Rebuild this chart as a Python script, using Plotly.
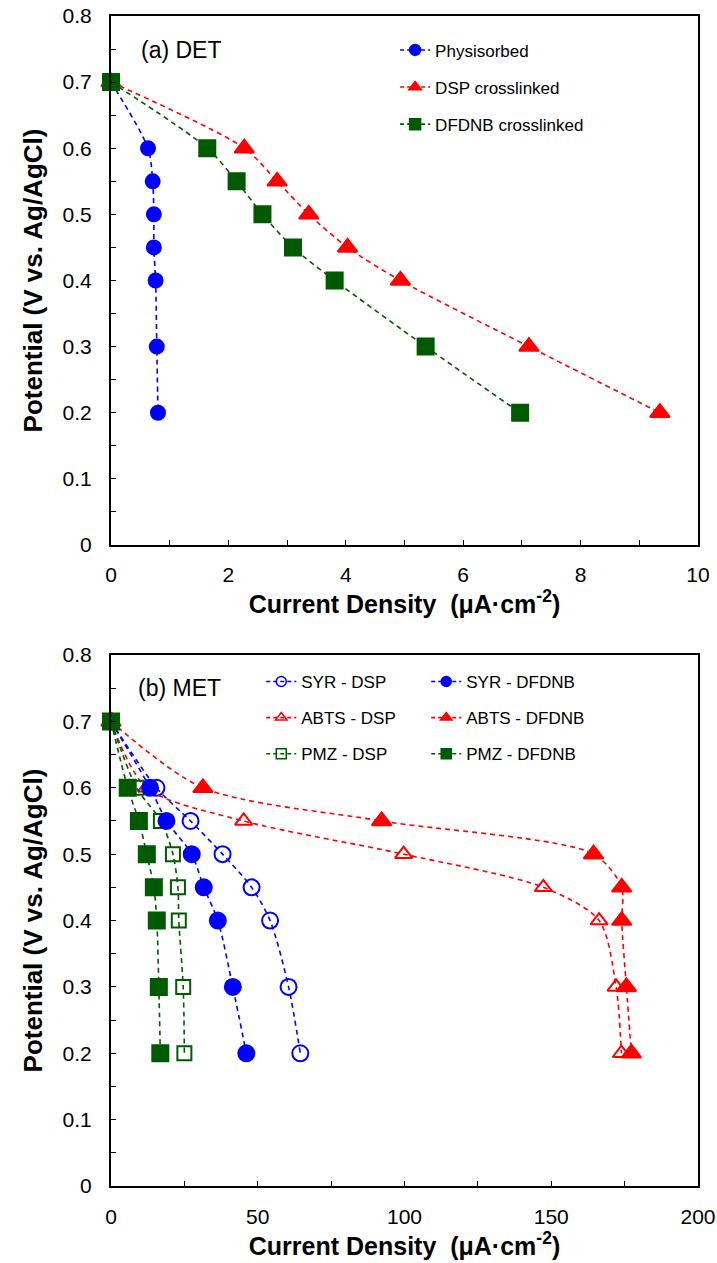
import plotly.graph_objects as go

# ---- Panel (a) DET ----
pot_a = [0.7, 0.6, 0.55, 0.5, 0.45, 0.4, 0.3, 0.2]
phys_x = [0, 0.63, 0.71, 0.73, 0.73, 0.76, 0.78, 0.80]
dsp_x = [0, 2.27, 2.83, 3.37, 4.03, 4.93, 7.12, 9.35]
dfdnb_x = [0, 1.64, 2.14, 2.58, 3.10, 3.81, 5.36, 6.97]

# ---- Panel (b) MET ----
pot_b = [0.7, 0.6, 0.55, 0.5, 0.45, 0.4, 0.3, 0.2]
syr_dsp = [0, 15.5, 27.1, 38.0, 47.9, 54.2, 60.5, 64.5]
syr_dfdnb = [0, 13.3, 18.9, 27.5, 31.6, 36.4, 41.5, 46.1]
abts_dsp = [0, 12.1, 45.2, 99.7, 147.3, 166.3, 172.1, 173.9]
abts_dfdnb = [0, 31.3, 92.2, 164.4, 174.0, 174.0, 175.6, 177.3]
pmz_dsp = [0, 8.7, 17.0, 21.1, 22.8, 23.1, 24.6, 25.0]
pmz_dfdnb = [0, 5.7, 9.5, 12.2, 14.6, 15.6, 16.3, 16.8]

BLUE = "#0000FF"
RED = "#FF0000"
GREEN = "#005A00"
FONT = "Liberation Sans, Arial, sans-serif"
DASH = "5px,4px"

fig = go.Figure()

def add(x, y, name, color, symbol, size, xa, ya, legend, lsize):
    fig.add_trace(go.Scatter(
        x=x, y=y, mode="lines+markers", name=name, showlegend=False,
        line=dict(color=color, width=1.6, dash=DASH, shape="spline", smoothing=0.8),
        marker=dict(color=color, symbol=symbol, size=size,
                    line=dict(color=color, width=2)),
        xaxis=xa, yaxis=ya, cliponaxis=False))
    # legend entry
    fig.add_trace(go.Scatter(
        x=[None], y=[None], mode="lines+markers", name=name, legend=legend,
        line=dict(color=color, width=1.6, dash="4px,3px"),
        marker=dict(color=color, symbol=symbol, size=lsize,
                    line=dict(color=color, width=1.5)),
        xaxis=xa, yaxis=ya))

add(phys_x, pot_a, "Physisorbed", BLUE, "circle", 14, "x", "y", "legend", 11)
add(dsp_x, pot_a, "DSP crosslinked", RED, "triangle-up", 17, "x", "y", "legend", 11)
add(dfdnb_x, pot_a, "DFDNB crosslinked", GREEN, "square", 16, "x", "y", "legend", 11)

add(syr_dsp, pot_b, "SYR - DSP", BLUE, "circle-open", 16, "x2", "y2", "legend2", 10)
add(abts_dsp, pot_b, "ABTS - DSP", RED, "triangle-up-open", 15, "x2", "y2", "legend2", 10)
add(pmz_dsp, pot_b, "PMZ - DSP", GREEN, "square-open", 14, "x2", "y2", "legend2", 10)
add(syr_dfdnb, pot_b, "SYR - DFDNB", BLUE, "circle", 16, "x2", "y2", "legend3", 10)
add(abts_dfdnb, pot_b, "ABTS - DFDNB", RED, "triangle-up", 17, "x2", "y2", "legend3", 10)
add(pmz_dfdnb, pot_b, "PMZ - DFDNB", GREEN, "square", 16, "x2", "y2", "legend3", 10)

axis_common = dict(showline=True, linecolor="black", linewidth=2, mirror=True,
                   ticks="inside", ticklen=5, tickcolor="black", tickwidth=1,
                   showgrid=False, zeroline=False, automargin=False,
                   ticklabeloverflow="allow",
                   tickfont=dict(family=FONT, size=21, color="black"))
xtitle = dict(text="<b>Current Density  (μA·cm<sup>-2</sup>)</b>",
              font=dict(family=FONT, size=25, color="black"), standoff=10)
ytitle = dict(text="<b>Potential (V vs. Ag/AgCl)</b>",
              font=dict(family=FONT, size=26, color="black"), standoff=12)

fig.update_layout(
    width=717, height=1263,
    margin=dict(l=111, r=19, t=16, b=77),
    paper_bgcolor="white", plot_bgcolor="white",
    font=dict(family=FONT, color="black"),
    xaxis=dict(domain=[0, 1], range=[0, 10], dtick=2, anchor="y",
               minor=dict(dtick=1, ticks="inside", ticklen=5, tickcolor="black"),
               ticklabelstandoff=10,
               title=xtitle, **axis_common),
    yaxis=dict(domain=[0.5479, 1.0], range=[0, 0.8], dtick=0.1, anchor="x",
               minor=dict(dtick=0.05, ticks="inside", ticklen=5, tickcolor="black"),
               ticklabelstandoff=13,
               title=ytitle, tickformat=".1~f", **axis_common),
    xaxis2=dict(domain=[0, 1], range=[0, 200], dtick=50, anchor="y2",
                minor=dict(dtick=25, ticks="inside", ticklen=5, tickcolor="black"),
                ticklabelstandoff=11,
                title=xtitle, **axis_common),
    yaxis2=dict(domain=[0, 0.4538], range=[0, 0.8], dtick=0.1, anchor="x2",
                minor=dict(dtick=0.05, ticks="inside", ticklen=5, tickcolor="black"),
                ticklabelstandoff=13,
                title=ytitle, tickformat=".1~f", **axis_common),
    legend=dict(x=0.484, y=0.986, xanchor="left", yanchor="top",
                bgcolor="rgba(0,0,0,0)", tracegroupgap=12,
                font=dict(family=FONT, size=17, color="black")),
    legend2=dict(x=0.256, y=0.4462, xanchor="left", yanchor="top",
                 bgcolor="rgba(0,0,0,0)", tracegroupgap=11,
                 font=dict(family=FONT, size=17, color="black")),
    legend3=dict(x=0.537, y=0.4462, xanchor="left", yanchor="top",
                 bgcolor="rgba(0,0,0,0)", tracegroupgap=11,
                 font=dict(family=FONT, size=17, color="black")),
)

# give each legend entry its own group so tracegroupgap spaces rows
for i, tr in enumerate(fig.data):
    tr.legendgroup = f"g{i}"

fig.add_annotation(xref="paper", yref="paper", x=(139 - 111) / 587, y=(1186 - 50) / 1170,
                   text="(a) DET", showarrow=False, xanchor="left", yanchor="middle",
                   font=dict(family=FONT, size=23, color="black"))
fig.add_annotation(xref="paper", yref="paper", x=(136 - 111) / 587, y=(1186 - 688) / 1170,
                   text="(b) MET", showarrow=False, xanchor="left", yanchor="middle",
                   font=dict(family=FONT, size=23, color="black"))

fig.write_html("out.html")
